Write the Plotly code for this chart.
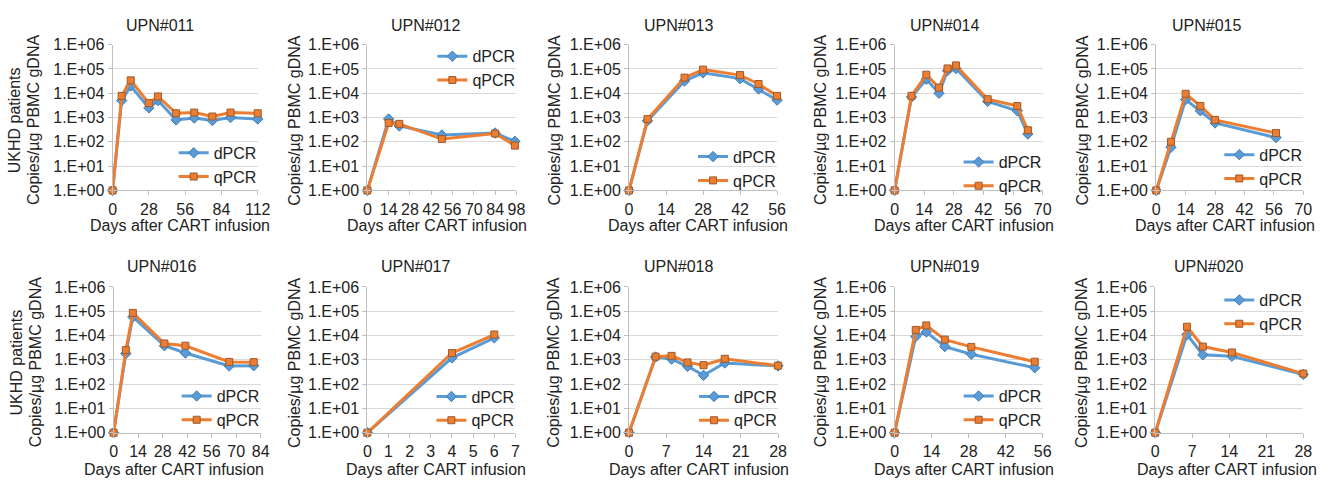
import plotly.graph_objects as go

W, H = 1343, 488

# ---------------- data ----------------
titles = ["UPN#011", "UPN#012", "UPN#013", "UPN#014", "UPN#015",
          "UPN#016", "UPN#017", "UPN#018", "UPN#019", "UPN#020"]

days_011 = [0, 7, 14, 28, 35, 49, 63, 77, 91, 112]
dpcr_011 = [1, 5000, 20000, 2500, 5000, 800, 950, 750, 1000, 870]
qpcr_011 = [1, 7800, 34000, 3900, 7400, 1500, 1600, 1100, 1600, 1500]

days_012 = [0, 14, 21, 49, 84, 97]
dpcr_012 = [1, 870, 450, 190, 230, 105]
qpcr_012 = [1, 600, 550, 130, 220, 70]

days_013 = [0, 7, 21, 28, 42, 49, 56]
dpcr_013 = [1, 740, 32000, 69000, 40000, 15000, 5200]
qpcr_013 = [1, 860, 44000, 94000, 56000, 24000, 7800]

days_014 = [0, 8, 15, 21, 25, 29, 44, 58, 63]
dpcr_014 = [1, 7000, 38000, 10000, 85000, 105000, 4600, 1900, 210]
qpcr_014 = [1, 7800, 58000, 17000, 105000, 140000, 5700, 3000, 300]

days_015 = [0, 7, 14, 21, 28, 57]
dpcr_015 = [1, 60, 5500, 1900, 600, 150]
qpcr_015 = [1, 100, 9500, 3000, 800, 230]

days_016 = [0, 7, 11, 29, 41, 66, 80]
dpcr_016 = [1, 1800, 58000, 3800, 1900, 560, 570]
qpcr_016 = [1, 2500, 85000, 4700, 3800, 820, 800]

days_017 = [0, 4, 6]
dpcr_017 = [1, 1200, 8000]
qpcr_017 = [1, 1900, 11000]

days_018 = [0, 5, 8, 11, 14, 18, 28]
dpcr_018 = [1, 1300, 1070, 540, 230, 740, 560]
qpcr_018 = [1, 1350, 1450, 780, 600, 1100, 570]

days_019 = [0, 8, 12, 19, 29, 53]
dpcr_019 = [1, 9000, 14000, 3500, 1700, 470]
qpcr_019 = [1, 17000, 26000, 6800, 3400, 830]

days_020 = [0, 6, 9, 14.5, 28]
dpcr_020 = [1, 11000, 1600, 1400, 250]
qpcr_020 = [1, 23000, 3500, 2000, 270]

x_max = [112, 98, 56, 70, 70, 84, 7, 28, 56, 28]
x_step = [28, 14, 14, 14, 14, 14, 1, 7, 14, 7]

y_tick_vals = [1, 10, 100, 1000, 10000, 100000, 1000000]
y_tick_text = ["1.E+00", "1.E+01", "1.E+02", "1.E+03", "1.E+04", "1.E+05", "1.E+06"]

series_days = [days_011, days_012, days_013, days_014, days_015,
               days_016, days_017, days_018, days_019, days_020]
series_d = [dpcr_011, dpcr_012, dpcr_013, dpcr_014, dpcr_015,
            dpcr_016, dpcr_017, dpcr_018, dpcr_019, dpcr_020]
series_q = [qpcr_011, qpcr_012, qpcr_013, qpcr_014, qpcr_015,
            qpcr_016, qpcr_017, qpcr_018, qpcr_019, qpcr_020]

# ---------------- layout (pixels) ----------------
plot_x = [(110, 257), (368, 519), (633, 783), (902, 1052), (1167, 1316),
          (111, 260), (368, 518), (633, 784), (902, 1052), (1166, 1316)]
row_y = [(38, 189), (289, 440)]
title_x = [158, 427, 683, 953, 1218, 160, 417, 683, 953, 1220]
title_y = [18, 268]
ytitle_x = [30, 294, 557, 827, 1092, 32, 294, 557, 827, 1092]
legend_y = [162.5, 62.5, 166.5, 172, 164.5, 414.5, 415, 415, 414.5, 315]
xtitle_y = [225, 478]
xtitle_shift = [-5, -5, -5, -5, -5, -13, -5, -5, -5, -2]

BLUE = "#5B9BD5"
BLUE_D = "#3F7DB8"
ORANGE = "#ED7D31"
ORANGE_D = "#9C5A2E"
FONT = "Liberation Sans, Arial, Helvetica, sans-serif"
TXT = "#222222"
FS = 16

def fx(p):
    return p / W

def fy(p):
    return 1 - p / H

fig = go.Figure()
layout = dict(
    width=W, height=H, margin=dict(l=0, r=0, t=0, b=0),
    paper_bgcolor="white", plot_bgcolor="white",
    font=dict(family=FONT, size=FS, color=TXT),
)
annotations = []

for i in range(10):
    n = i + 1
    sfx = "" if n == 1 else str(n)
    xa, ya = "x" + sfx, "y" + sfx
    leg = "legend" + sfx
    row = 0 if i < 5 else 1
    x0, x1 = plot_x[i]
    y0, y1 = row_y[row]

    fig.add_trace(go.Scatter(
        x=series_days[i], y=series_d[i], name="dPCR", mode="lines+markers",
        xaxis=xa, yaxis=ya, legend=leg, cliponaxis=False,
        line=dict(color=BLUE, width=3),
        marker=dict(symbol="diamond", size=8, color=BLUE, line=dict(color=BLUE_D, width=1))))
    fig.add_trace(go.Scatter(
        x=series_days[i], y=series_q[i], name="qPCR", mode="lines+markers",
        xaxis=xa, yaxis=ya, legend=leg, cliponaxis=False,
        line=dict(color=ORANGE, width=3),
        marker=dict(symbol="square", size=7, color=ORANGE, line=dict(color=ORANGE_D, width=1))))

    layout["xaxis" + sfx] = dict(
        domain=[fx(x0), fx(x1)], anchor=ya, range=[0, x_max[i]],
        tick0=0, dtick=x_step[i], showgrid=False, zeroline=False,
        showline=True, linecolor="#BFBFBF", linewidth=1,
        ticks="outside", ticklen=4, tickcolor="#BFBFBF",
        tickfont=dict(family=FONT, size=FS, color=TXT))
    layout["yaxis" + sfx] = dict(
        domain=[fy(y1), fy(y0)], anchor=xa, type="log", range=[0, 6],
        tickvals=y_tick_vals, ticktext=y_tick_text,
        showgrid=True, gridcolor="#D9D9D9", gridwidth=1, zeroline=False,
        showline=True, linecolor="#BFBFBF", linewidth=1,
        ticks="outside", ticklen=4, tickcolor="#BFBFBF",
        tickfont=dict(family=FONT, size=FS, color=TXT))
    layout[leg] = dict(
        x=fx(x1 + 4), xanchor="right", y=fy(legend_y[i]), yanchor="middle",
        bgcolor="rgba(0,0,0,0)", borderwidth=0, itemwidth=30,
        tracegroupgap=0, font=dict(family=FONT, size=16, color=TXT))

    annotations.append(dict(
        text=titles[i], x=fx(title_x[i]), y=fy(title_y[row]), xref="paper", yref="paper",
        showarrow=False, xanchor="center", yanchor="middle",
        font=dict(family=FONT, size=16, color=TXT)))
    annotations.append(dict(
        text="Days after CART infusion", x=fx((x0 + x1) / 2 + xtitle_shift[i]),
        y=fy(xtitle_y[row]),
        xref="paper", yref="paper", showarrow=False, xanchor="center", yanchor="middle",
        font=dict(family=FONT, size=16, color=TXT)))
    annotations.append(dict(
        text="Copies/µg PBMC gDNA", x=fx(ytitle_x[i]), y=fy((y0 + y1) / 2 + 3),
        xref="paper", yref="paper", showarrow=False, textangle=-90,
        xanchor="center", yanchor="middle",
        font=dict(family=FONT, size=16, color=TXT)))
    if i in (0, 5):
        annotations.append(dict(
            text="UKHD patients", x=fx(ytitle_x[i] - 19), y=fy((y0 + y1) / 2 + 3),
            xref="paper", yref="paper", showarrow=False, textangle=-90,
            xanchor="center", yanchor="middle",
            font=dict(family=FONT, size=16, color=TXT)))

layout["annotations"] = annotations
layout["showlegend"] = True
fig.update_layout(**layout)
fig.write_html("out.html")
